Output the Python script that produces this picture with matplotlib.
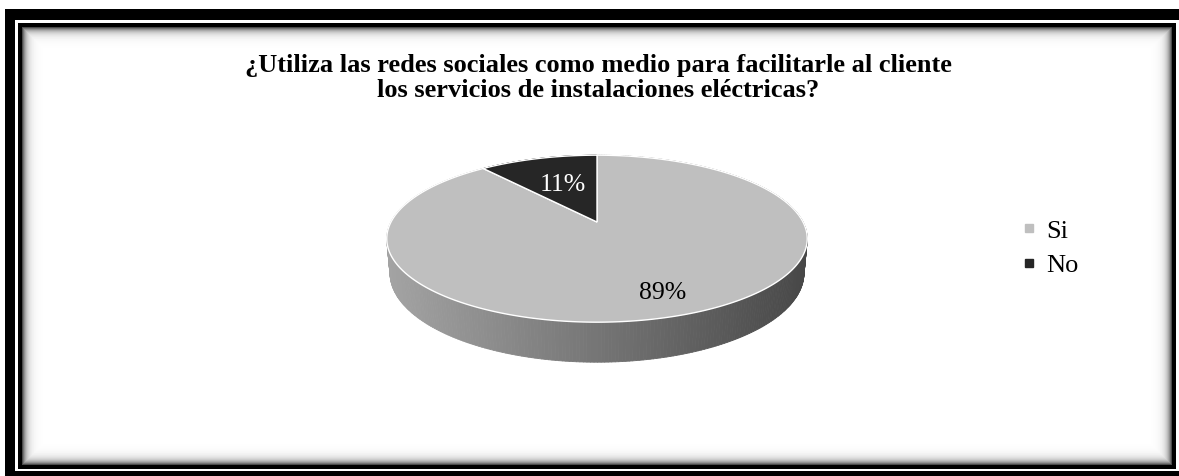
import numpy as np
import matplotlib
matplotlib.use("Agg")
import matplotlib.pyplot as plt
from matplotlib.collections import PolyCollection
from matplotlib.patches import Polygon
from matplotlib.lines import Line2D

# ---- data -------------------------------------------------------------
title = ("¿Utiliza las redes sociales como medio para facilitarle al cliente\n"
         "los servicios de instalaciones eléctricas?")
categories = ["Si", "No"]
shares = [89, 11]
pct_labels = ["89%", "11%"]

# ---- styling ----------------------------------------------------------
top_colors = ["#bfbfbf", "#262626"]
text_colors = ["black", "white"]
label_radius = [0.80, 0.54]
serif = ["Liberation Serif", "DejaVu Serif"]

W, H = 1179, 476
fig = plt.figure(figsize=(W / 100, H / 100), dpi=100)
ax = fig.add_axes([0, 0, 1, 1])
ax.axis("off")

# ---- double black frame with inner shadow -----------------------------
yy, xx = np.mgrid[0:H, 0:W] + 0.5
img = np.ones((H, W))
img[(xx >= 5) & (yy >= 9)] = 0.0
img[(xx >= 15) & (yy >= 20) & (yy < 471)] = 1.0
img[(xx >= 18) & (xx < 1176) & (yy >= 23) & (yy < 469)] = 0.0
x0, x1, y0, y1 = 22, 1172, 27, 465
panel = (xx >= x0) & (xx < x1) & (yy >= y0) & (yy < y1)
d = np.minimum.reduce([xx - x0, x1 - xx, yy - y0, y1 - yy])
shade = 1 - 0.8 * np.exp(-d / 4.0)
img[panel] = shade[panel]
ax.imshow(img, cmap="gray", vmin=0, vmax=1, extent=(0, W, H, 0),
          interpolation="nearest", aspect="auto", zorder=0)

# ---- 3-D pie (perspective projection of a thin disc) -------------------
cx, cy = 597, 222
scale = 206
elev = np.radians(22.9)
dist = 4.61
depth = 0.18
se, ce = np.sin(elev), np.cos(elev)


def project(X, Y, Z):
    w = dist + Y * ce - Z * se
    return cx + scale * X * dist / w, cy - scale * (Y * se + Z * ce) * dist / w


fractions = np.array(shares, dtype=float) / np.sum(shares)
ends = 90 - 360 * np.cumsum(fractions)
starts = np.concatenate([[90], ends[:-1]])

# side wall, shaded left (light) to right (dark)
left_x = cx - scale * 1.02
right_x = cx + scale * 1.02
polys, cols = [], []
for k, (a0, a1) in enumerate(zip(starts, ends)):
    t = np.radians(np.linspace(a0, a1, 400))
    for i in range(len(t) - 1):
        ta, tb = t[i], t[i + 1]
        pa = project(np.cos(ta), np.sin(ta), 0)
        pb = project(np.cos(tb), np.sin(tb), 0)
        qa = project(np.cos(ta), np.sin(ta), -depth)
        qb = project(np.cos(tb), np.sin(tb), -depth)
        polys.append([pa, pb, qb, qa])
        f = np.clip(((pa[0] + pb[0]) / 2 - left_x) / (right_x - left_x), 0, 1)
        g = 0.64 - 0.36 * f if k == 0 else 0.12
        cols.append((g, g, g))
ax.add_collection(PolyCollection(polys, facecolors=cols, edgecolors=cols,
                                 linewidths=0.6, zorder=2))

# top face of the slices
for k, (a0, a1) in enumerate(zip(starts, ends)):
    t = np.radians(np.linspace(a0, a1, 400))
    px, py = project(np.cos(t), np.sin(t), 0)
    pts = np.column_stack([np.concatenate([[cx], px]), np.concatenate([[cy], py])])
    ax.add_patch(Polygon(pts, closed=True, facecolor=top_colors[k],
                         edgecolor="white", linewidth=1.0, zorder=3))

# percentage labels
for k, (a0, a1) in enumerate(zip(starts, ends)):
    mid = np.radians((a0 + a1) / 2)
    r = label_radius[k]
    lx, ly = project(r * np.cos(mid), r * np.sin(mid), 0)
    ax.text(lx, ly, pct_labels[k], ha="center", va="center", fontsize=18.5,
            family=serif, color=text_colors[k], zorder=4)

# ---- title (two centred lines) ------------------------------------------
for i, line in enumerate(title.split("\n")):
    ax.text(598, 72 + 25 * i, line, ha="center", va="baseline", fontsize=19,
            fontweight="bold", family=serif, zorder=4)

# ---- legend -----------------------------------------------------------
handles = [Line2D([], [], linestyle="none", marker="s", markersize=5.5,
                  markerfacecolor=c, markeredgecolor=c) for c in top_colors]
ax.legend(handles, categories, loc="center left",
          bbox_to_anchor=(1021 / W, 1 - 248 / H), frameon=False,
          prop={"family": serif, "size": 19}, handlelength=0.6,
          handletextpad=0.35, labelspacing=0.4, borderpad=0,
          borderaxespad=0)

ax.set_xlim(0, W)
ax.set_ylim(H, 0)
fig.savefig("out.png", dpi=100)
